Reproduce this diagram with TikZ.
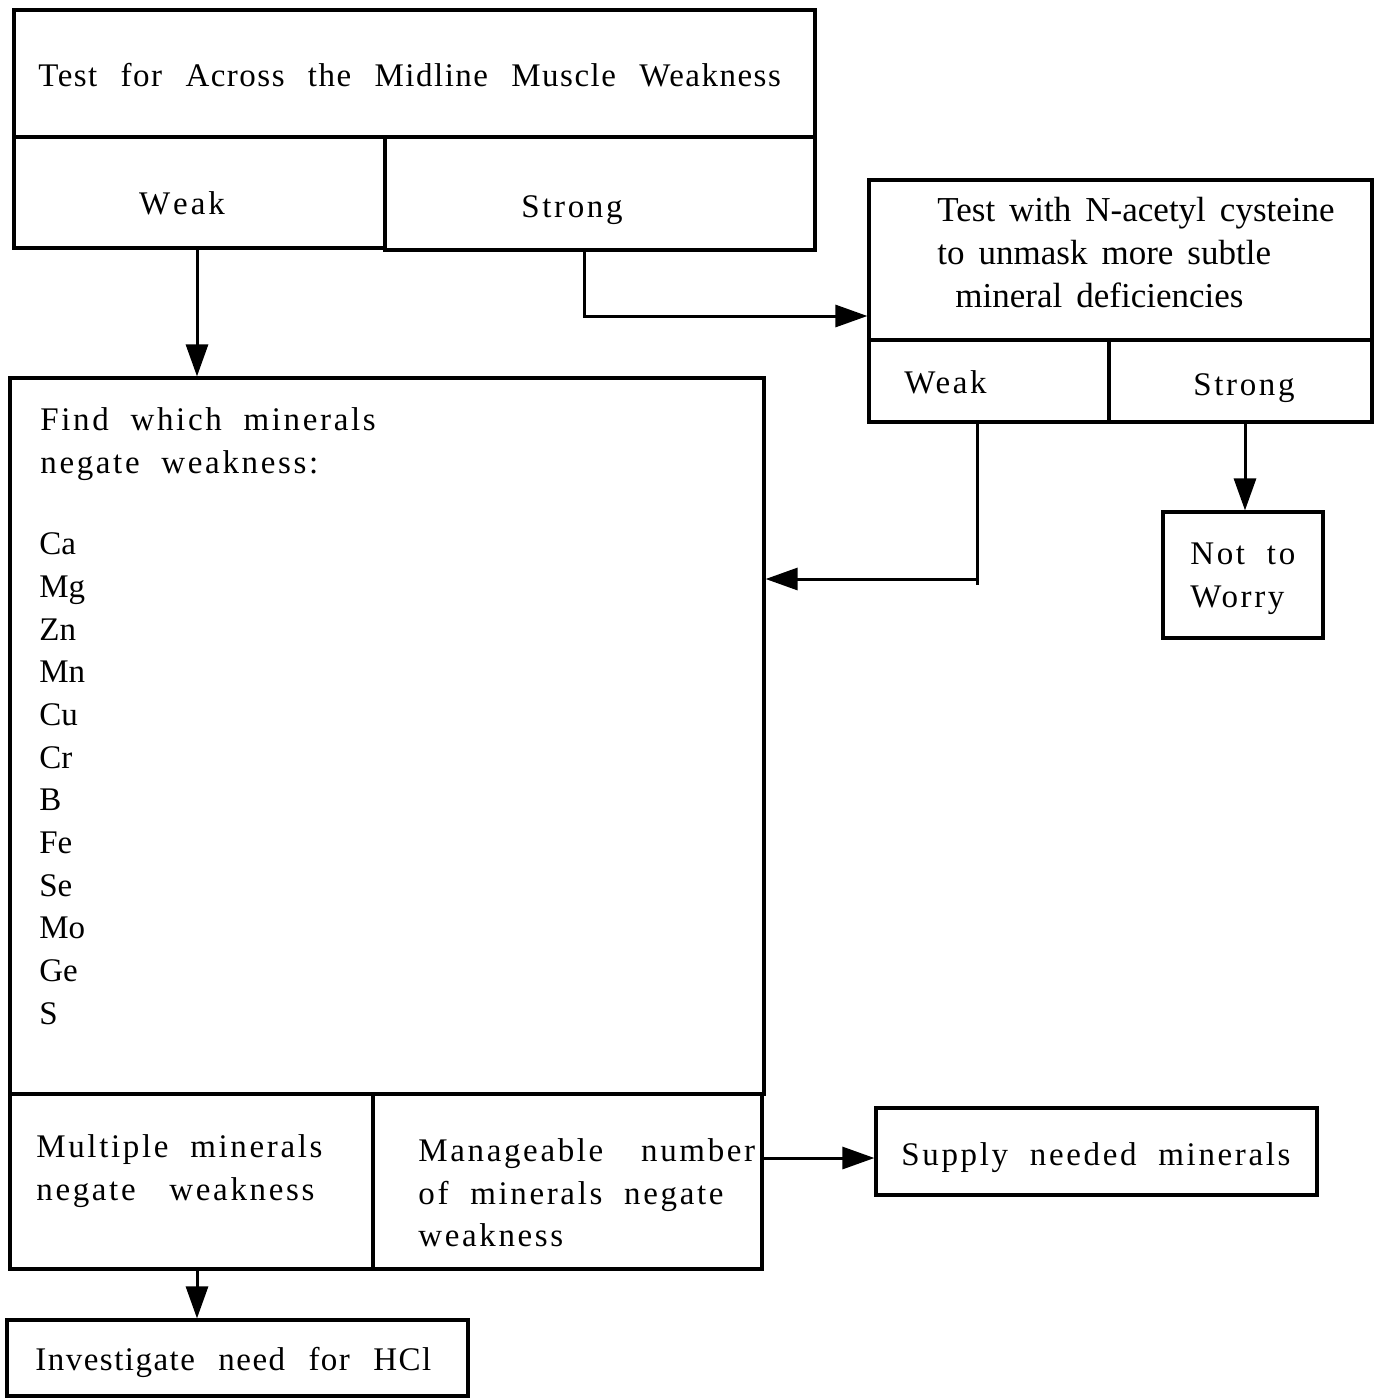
\documentclass[tikz,border=0pt]{standalone}
\usepackage{fontspec}
\setmainfont{Liberation Serif}
\newfontfamily\spaced[LetterSpace=8,WordSpace=2.0]{Liberation Serif}
\newfontfamily\semispaced[LetterSpace=4.5,WordSpace=2.4]{Liberation Serif}
\newfontfamily\tightserif[WordSpace=1.6]{Liberation Serif}
\usetikzlibrary{arrows.meta,fit}

\begin{document}
\begin{tikzpicture}[x=0.5pt,y=-0.5pt,
  cell/.style={draw, line width=1.6pt, inner sep=0pt},
  txt/.style={inner sep=0pt, font=\fontsize{16.5}{21.5}\selectfont},
  wtxt/.style={txt, font=\spaced\fontsize{16.5}{21.5}\selectfont},
  mtxt/.style={txt, font=\semispaced\fontsize{16.5}{21.5}\selectfont},
  ttxt/.style={txt, font=\tightserif\fontsize{17.5}{21.5}\selectfont},
  link/.style={line width=1.5pt},
  arr/.style={link, -{Triangle[length=16pt,width=11pt]}}]
\useasboundingbox (0,0) rectangle (1373,1399);

% opening test
\node[cell, fit={(14,10) (815,137)}] (top) {};
\node[cell, fit={(14,137) (385,248)}] (topweak) {};
\node[cell, fit={(385,137) (815,250)}] (topstrong) {};
\node[mtxt, anchor=mid west] (toptitle) at (38,82) {Test for Across the Midline Muscle Weakness};
\node[wtxt, anchor=mid] (topweaklbl) at (182,210) {W\hspace{1.5pt}e\hspace{1.5pt}a\hspace{1.5pt}k};
\node[wtxt, anchor=mid] (topstronglbl) at (572,213) {Strong};

% N-acetyl cysteine test
\node[cell, fit={(869,180) (1372,340)}] (nac) {};
\node[cell, fit={(869,340) (1109,422)}] (nacweak) {};
\node[cell, fit={(1109,340) (1372,422)}] (nacstrong) {};
\node[ttxt, anchor=mid west] (nac1) at (937,217) {Test with N-acetyl cysteine};
\node[ttxt, anchor=mid west] (nac2) at (937,260) {to unmask more subtle};
\node[ttxt, anchor=mid west] (nac3) at (955,303) {mineral deficiencies};
\node[wtxt, anchor=mid west] (nacweaklbl) at (904,389) {Weak};
\node[wtxt, anchor=mid] (nacstronglbl) at (1244,391) {Strong};

% no deficiency
\node[cell, fit={(1163,512) (1323,638)}] (worry) {};
\node[wtxt, anchor=mid west] (worry1) at (1190,560) {Not to};
\node[wtxt, anchor=mid west] (worry2) at (1190,603) {Worry};

% mineral screening
\node[cell, fit={(10,378) (764,1094)}] (big) {};
\node[cell, fit={(10,1094) (373,1269)}] (multi) {};
\node[cell, fit={(373,1094) (762,1269)}] (manage) {};
\node[wtxt, anchor=mid west] (find1) at (40,426) {Find which minerals};
\node[wtxt, anchor=mid west] (find2) at (40,469) {negate weakness:};
\foreach \m [count=\i] in {Ca,Mg,Zn,Mn,Cu,Cr,B,Fe,Se,Mo,Ge,S}
  \node[txt, anchor=mid west] (min\i) at (39,{550+(\i-1)*42.7}) {\m};
\node[wtxt, anchor=mid west] (multi1) at (36,1153) {Multiple minerals};
\node[wtxt, anchor=mid west] (multi2) at (36,1196) {negate\hspace{6pt} weakness};
\node[wtxt, anchor=mid west] (manage1) at (418,1157) {Manageable\hspace{8pt} number};
\node[wtxt, anchor=mid west] (manage2) at (418,1200) {of minerals negate};
\node[wtxt, anchor=mid west] (manage3) at (418,1242) {weakness};

% outcomes
\node[cell, fit={(876,1108) (1317,1195)}] (supply) {};
\node[wtxt, anchor=mid] (supplylbl) at (1096,1161) {Supply needed minerals};
\node[cell, fit={(7,1320) (468,1396)}] (hcl) {};
\node[mtxt, anchor=mid west] (hcllbl) at (35,1366) {Investigate need for HCl};

% connectors
\draw[arr] (topweak.south -| 197,0) -- (big.north -| 197,0);
\draw[arr] (topstrong.south -| 584,0) |- (nac.west |- 0,316);
\draw[link] (nacweak.south -| 977,0) -- (977,585);
\draw[arr] (977,579) coordinate (nacturn) -- (big.east |- nacturn);
\draw[arr] (nacstrong.south -| 1245,0) -- (worry.north -| 1245,0);
\draw[arr] (manage.east |- 0,1158) -- (supply.west |- 0,1158);
\draw[arr] (multi.south -| 197,0) -- (hcl.north -| 197,0);
\end{tikzpicture}
\end{document}
